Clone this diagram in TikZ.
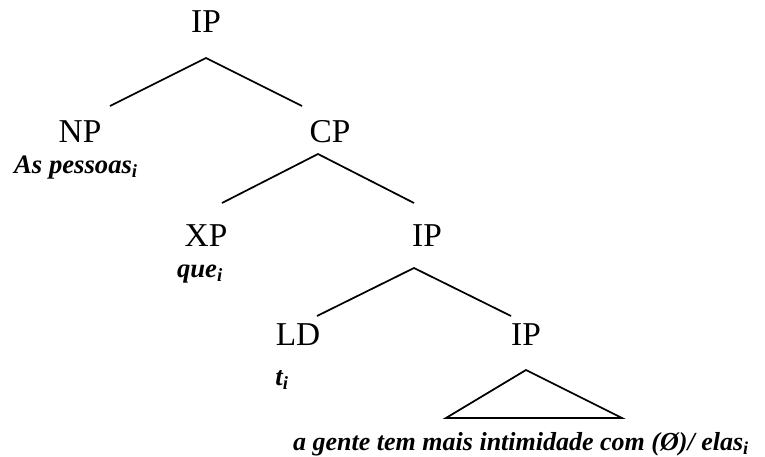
\documentclass[tikz,border=0pt]{standalone}
\usepackage{fontspec}
\setmainfont{Liberation Serif}
\usetikzlibrary{calc}
\begin{document}
\begin{tikzpicture}[x=0.75pt,y=-0.75pt,
  cat/.style={anchor=base, inner sep=0pt, font=\fontsize{25}{30}\selectfont},
  word/.style={anchor=base, inner sep=0pt, font=\fontsize{20}{24}\selectfont\bfseries\itshape},
  branch/.style={line width=1.3pt, line join=miter}]
\useasboundingbox (0,0) rectangle (765,457);
% category labels
\node[cat] (ip1) at (206,32) {IP};
\node[cat] (np) at (80,142) {NP};
\node[cat] (cp) at (330,142) {CP};
\node[cat] (xp) at (206,246) {XP};
\node[cat] (ip2) at (427,246) {IP};
\node[cat] (ld) at (298,345) {LD};
\node[cat] (ip3) at (526,345) {IP};
% lexical material
\node[word] (w1) at (76,173) {As pessoas\textsubscript{i}};
\node[word] (w2) at (200,277) {que\textsubscript{i}};
\node[word] (w3) at (282,385) {t\textsubscript{i}};
\node[word, font=\fontsize{19.5}{24}\selectfont\bfseries\itshape] (w4) at (521,450) {a gente tem mais intimidade com (Ø)/ elas\textsubscript{i}};
% branches
\draw[branch] ($(np.base)+(30,-36)$) -- ($(ip1.base)+(0,26)$) -- ($(cp.base)+(-28,-36)$);
\draw[branch] ($(xp.base)+(16,-43)$) -- ($(cp.base)+(-12,12)$) -- ($(ip2.base)+(-13,-43)$);
\draw[branch] ($(ld.base)+(19,-29)$) -- ($(ip2.base)+(-13,22)$) -- ($(ip3.base)+(-15,-29)$);
\draw[branch] ($(ip3.base)+(0,25)$) -- ($(ip3.base)+(96,73)$) -- ($(ip3.base)+(-80,73)$) -- cycle;
\end{tikzpicture}
\end{document}
